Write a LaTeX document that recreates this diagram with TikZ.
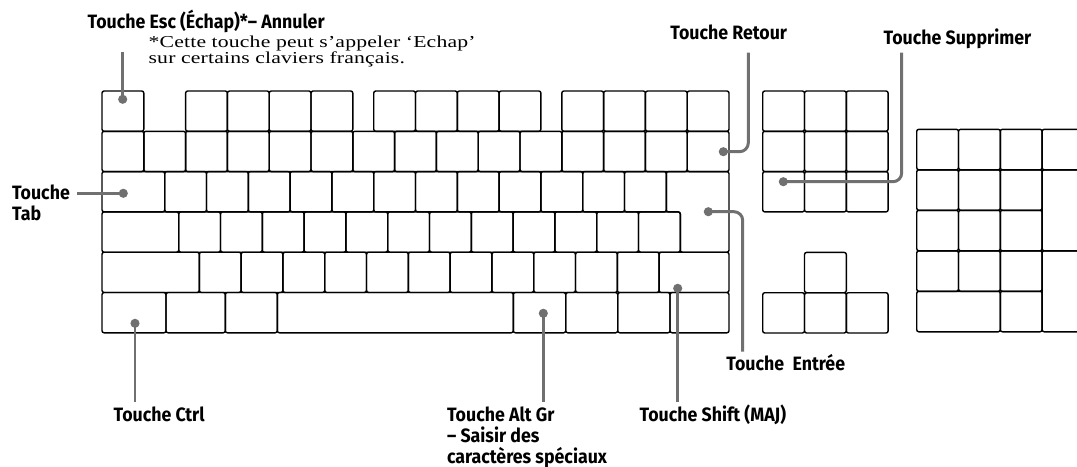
\documentclass[tikz,border=0pt]{standalone}
\usepackage{fontspec}
\setmainfont{Liberation Serif}
\newfontfamily\notefont[FakeStretch=1.3, LetterSpace=1]{Liberation Serif}
\newfontfamily\labelfont[FakeStretch=0.92]{Fira Sans}
\definecolor{callgray}{HTML}{707070}

\begin{document}
\begin{tikzpicture}[
  x=0.02cm, y=-0.02cm,
  key/.style={draw, line width=0.8pt, rounded corners=1.2pt},
  callout/.style={draw=callgray, line width=1.7pt, rounded corners=5pt},
  dot/.style={circle, fill=callgray, inner sep=0pt, minimum size=5.2pt},
  lbl/.style={font=\labelfont\bfseries\fontsize{11}{11.8}\selectfont,
               inner sep=0pt, anchor=base west, align=left},
  note/.style={font=\notefont\fontsize{9.5}{9.1}\selectfont, inner sep=0pt,
               anchor=base west, align=left}
]
  \path[use as bounding box, clip] (0,0) rectangle (1077,466);

  % Bloc principal
  \draw[key] (102,91) rectangle (143.8,131.3);
  \foreach \x in {185.6,227.4,269.2,311,373.7,415.5,457.3,499.1,561.8,603.6,645.4,687.2}
    \draw[key] (\x,91) rectangle ++(41.8,40.3);
  \foreach \i in {0,...,14}
    \draw[key] ({102+41.8*\i},131.3) rectangle ++(41.8,40.3);
  \draw[key] (102,171.6) rectangle (164.7,211.9);
  \foreach \i in {0,...,11}
    \draw[key] ({164.7+41.8*\i},171.6) rectangle ++(41.8,40.3);
  \draw[key] (666.3,171.6) -- (729,171.6) -- (729,252.2) -- (680.3,252.2)
    -- (680.3,211.9) -- (666.3,211.9) -- cycle;
  \draw[key] (102,211.9) rectangle (178.7,252.2);
  \foreach \i in {0,...,11}
    \draw[key] ({178.7+41.8*\i},211.9) rectangle ++(41.8,40.3);
  \draw[key] (102,252.2) rectangle (199.3,292.5);
  \foreach \i in {0,...,10}
    \draw[key] ({199.3+41.8*\i},252.2) rectangle ++(41.8,40.3);
  \draw[key] (659.1,252.2) rectangle (729,292.5);
  \foreach \a/\b in {102/166,166/225.3,225.3/277.3,277.3/513.3,513.3/565.7,
                     565.7/617.7,617.7/670,670/729}
    \draw[key] (\a,292.5) rectangle (\b,332.8);

  % Bloc de navigation et fleches
  \foreach \i in {0,1,2}
    \foreach \j in {0,1,2}
      \draw[key] ({762.7+41.8*\i},{91+40.3*\j}) rectangle ++(41.8,40.3);
  \draw[key] (804.5,252.4) rectangle ++(41.8,40.3);
  \foreach \i in {0,1,2}
    \draw[key] ({762.7+41.8*\i},292.7) rectangle ++(41.8,40.3);

  % Pave numerique
  \foreach \i in {0,...,3}
    \draw[key] ({916.7+41.8*\i},129.3) rectangle ++(41.8,40.5);
  \foreach \i in {0,1,2}
    \foreach \j in {1,2,3}
      \draw[key] ({916.7+41.8*\i},{129.3+40.5*\j}) rectangle ++(41.8,40.5);
  \draw[key] (1042.1,169.8) rectangle ++(41.8,81);
  \draw[key] (1042.1,250.8) rectangle ++(41.8,81);
  \draw[key] (916.7,291.3) rectangle ++(83.6,40.5);
  \draw[key] (1000.3,291.3) rectangle ++(41.8,40.5);

  % Reperes
  \node[dot] (escdot) at (122.7,99.3) {};
  \node[dot] (tabdot) at (123.3,193.3) {};
  \node[dot] (ctrldot) at (135,323.3) {};
  \node[dot] (altgrdot) at (543.3,313.3) {};
  \node[dot] (shiftdot) at (677.7,288.3) {};
  \node[dot] (entreedot) at (708.3,211.7) {};
  \node[dot] (retourdot) at (723.3,151.7) {};
  \node[dot] (supprdot) at (783.3,181.7) {};
  \coordinate (escend) at (122.7,51.7);
  \coordinate (tabend) at (76.7,193.3);
  \coordinate (ctrlend) at (135,401.7);
  \coordinate (altgrend) at (543.3,401.7);
  \coordinate (shiftend) at (677.7,401.7);
  \coordinate (entreeend) at (742.7,351.7);
  \coordinate (retourend) at (748.3,52.7);
  \coordinate (supprend) at (901.7,52.7);

  \draw[callout] (escdot.center) -- (escend);
  \draw[callout] (tabdot.center) -- (tabend);
  \draw[callout] (ctrldot.center) -- (ctrlend);
  \draw[callout] (altgrdot.center) -- (altgrend);
  \draw[callout] (shiftdot.center) -- (shiftend);
  \draw[callout] (entreedot.center) -| (entreeend);
  \draw[callout] (retourdot.center) -| (retourend);
  \draw[callout] (supprdot.center) -| (supprend);

  % Labels (ancres sur la derniere ligne)
  \node[lbl] (esclbl) at (87.3,28.3) {Touche Esc (Échap)*– Annuler};
  \node[note] (escnote) at (148.3,63.5) {*Cette touche peut s’appeler ‘Echap’\\sur certains claviers français.};
  \node[lbl] (tablbl) at (11.7,220) {Touche\\Tab};
  \node[lbl] (ctrllbl) at (113.3,421.7) {Touche Ctrl};
  \node[lbl] (altgrlbl) at (446.7,463) {Touche Alt Gr\\– Saisir des\\caractères spéciaux};
  \node[lbl] (shiftlbl) at (639.3,421.7) {Touche Shift (MAJ)};
  \node[lbl] (entreelbl) at (726,370) {Touche\ \ Entrée};
  \node[lbl] (retourlbl) at (670,40) {Touche Retour};
  \node[lbl] (supprlbl) at (883.3,45) {Touche Supprimer};
\end{tikzpicture}
\end{document}
